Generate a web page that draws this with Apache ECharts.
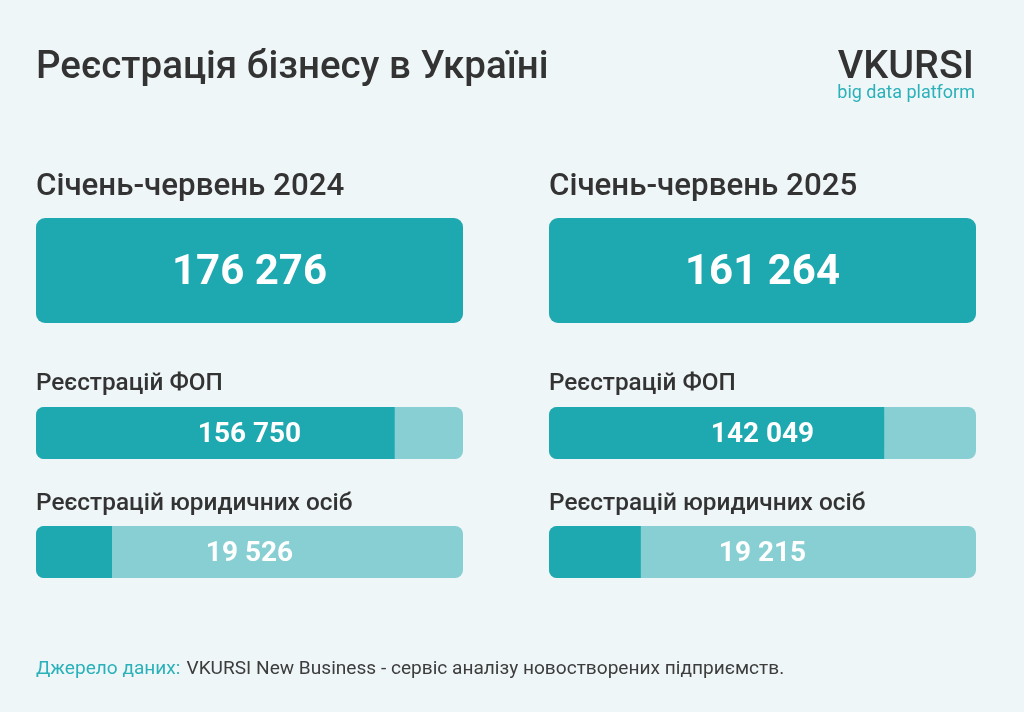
<!DOCTYPE html>
<html lang="uk">
<head>
<meta charset="UTF-8">
<title>Реєстрація бізнесу в Україні</title>
<style>
  html, body { margin: 0; padding: 0; background: #eff6f8; }
  #chart { width: 1024px; height: 712px; }
</style>
</head>
<body>
<div id="chart"></div>
<script src="https://cdn.jsdelivr.net/npm/echarts@6/dist/echarts.min.js"></script>
<script>
// values
var periods = ['Січень-червень 2024', 'Січень-червень 2025'];
var totals = [176276, 161264];
var fop = [156750, 142049];
var legal = [19526, 19215];
// dark part of each bar, as a share of the bar length (as drawn)
var fopShare = [0.84, 0.785];
var legalShare = [0.178, 0.215];
var rowNames = ['Реєстрацій ФОП', 'Реєстрацій юридичних осіб'];

var dark = '#1ea8b0';
var light = '#87cfd3';
var textCol = '#333333';
var teal = '#2ab1b9';
var font = 'Roboto';

function fmt(v) {
  return String(v).replace(/\B(?=(\d{3})+(?!\d))/g, ' ');
}

var colLeft = [36, 549];
var colW = 427;
var rows = [
  { top: 218, h: 105 },  // total box
  { top: 407, h: 52 },   // ФОП
  { top: 526, h: 52 }    // юр. особи
];

var grids = [], xAxes = [], yAxes = [], series = [];
periods.forEach(function (p, i) {
  rows.forEach(function (r, k) {
    var g = grids.length;
    grids.push({ left: colLeft[i], top: r.top, width: colW, height: r.h });
    yAxes.push({ type: 'category', gridIndex: g, data: [p], show: false });
    if (k === 0) {
      xAxes.push({ type: 'value', gridIndex: g, min: 0, max: totals[i], show: false });
      series.push({
        type: 'bar', xAxisIndex: g, yAxisIndex: g, barWidth: '100%',
        data: [totals[i]], silent: true,
        itemStyle: { color: dark, borderRadius: 9 },
        label: {
          show: true, position: 'inside', offset: [0, 3],
          formatter: function () { return fmt(totals[i]); },
          color: '#fff', fontFamily: font, fontWeight: 'bold', fontSize: 42
        }
      });
    } else {
      var share = k === 1 ? fopShare[i] : legalShare[i];
      var val = k === 1 ? fop[i] : legal[i];
      xAxes.push({ type: 'value', gridIndex: g, min: 0, max: 1, show: false });
      series.push({
        type: 'bar', xAxisIndex: g, yAxisIndex: g, barWidth: '100%',
        data: [share], silent: true,
        showBackground: true,
        backgroundStyle: { color: light, borderRadius: 8 },
        itemStyle: { color: dark, borderRadius: [8, 0, 0, 8] }
      });
      // full-length transparent bar that carries the centred value label
      series.push({
        type: 'bar', xAxisIndex: g, yAxisIndex: g, barWidth: '100%', barGap: '-100%',
        data: [1], silent: true,
        itemStyle: { color: 'rgba(0,0,0,0)' },
        label: {
          show: true, position: 'inside', offset: [0, 2],
          formatter: function () { return fmt(val); },
          color: '#fff', fontFamily: font, fontWeight: 'bold', fontSize: 28
        }
      });
    }
  });
});

var graphic = [
  { type: 'text', left: 36, top: 49, style: { text: 'Реєстрація бізнесу в Україні', fill: textCol, font: '500 38.5px Roboto' } },
  { type: 'text', right: 50, top: 48, style: { text: 'VKURSI', fill: textCol, font: '500 39.5px Roboto' } },
  { type: 'text', right: 49, top: 84, style: { text: 'big data platform', fill: teal, font: '18px Roboto' } },
  { type: 'text', left: 36, top: 660, style: { text: 'Джерело даних:', fill: teal, font: '19.1px Roboto' } }
];
periods.forEach(function (p, i) {
  graphic.push({ type: 'text', left: colLeft[i], top: 172, style: { text: p, fill: textCol, font: '500 31.3px Roboto' } });
  graphic.push({ type: 'text', left: colLeft[i], top: 372, style: { text: rowNames[0], fill: textCol, font: '500 24.3px Roboto' } });
  graphic.push({ type: 'text', left: colLeft[i], top: 492, style: { text: rowNames[1], fill: textCol, font: '500 24.4px Roboto' } });
});

var chart = echarts.init(document.getElementById('chart'));
chart.setOption({
  backgroundColor: '#eff6f8',
  animation: false,
  grid: grids,
  xAxis: xAxes,
  yAxis: yAxes,
  series: series,
  graphic: graphic
});

// footer: second part follows the teal label
var srcLabel = chart.getZr().storage.getDisplayList().filter(function (el) {
  return el.style && el.style.text === 'Джерело даних:';
})[0];
var w = srcLabel ? srcLabel.getBoundingRect().width : 144;
graphic.push({ type: 'text', left: 36 + w + 6, top: 660, style: { text: 'VKURSI New Business - сервіс аналізу новостворених підприємств.', fill: '#3d3d3d', font: '19.1px Roboto' } });
chart.setOption({ graphic: graphic });
</script>
</body>
</html>
